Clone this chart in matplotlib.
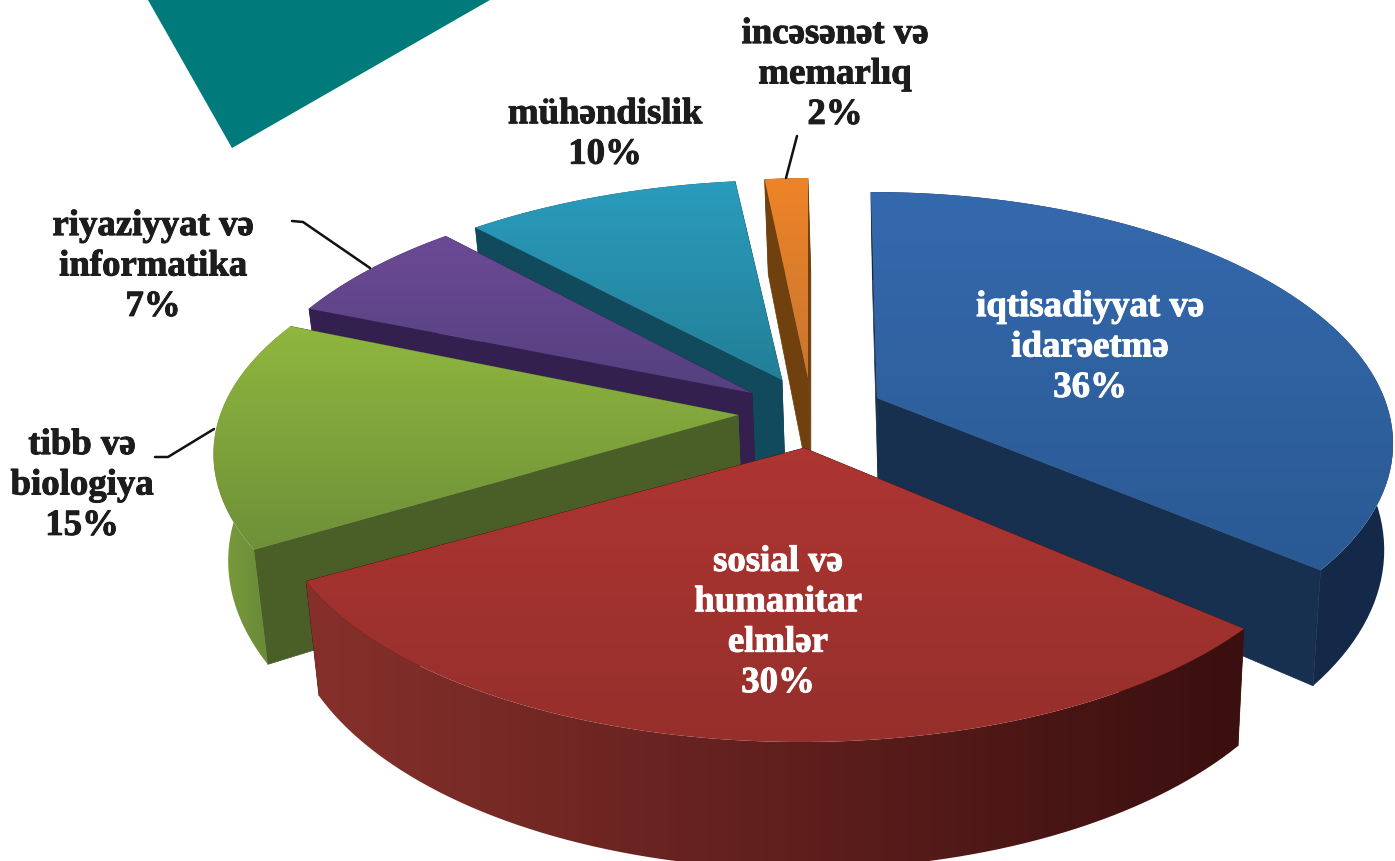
import numpy as np
import matplotlib
matplotlib.use("Agg")
import matplotlib.pyplot as plt
import matplotlib.patheffects as pe
from matplotlib.patches import Polygon
from matplotlib.colors import LinearSegmentedColormap

# ---- data ----
categories = ["iqtisadiyyat və\nidarəetmə", "sosial və\nhumanitar\nelmlər", "tibb və\nbiologiya",
              "riyaziyyat və\ninformatika", "mühəndislik", "incəsənət və\nmemarlıq"]
values = [36, 30, 15, 7, 10, 2]

# ---- styles / layout (pixel space) ----
apex = [(877, 398), (804, 448), (738, 415), (752, 393), (782, 380), (808, 378)]
scale_x = [0.985, 1.005, 1.0, 0.99, 1.01, 0.8]
shear_x = [0.03, -0.08, 0.0, 0.0, -0.04, 0.0]
shear_y = [0.0, 0.018, 0.015, 0.0, 0.0, 0.0]
persp = [0.17, 0.19, 0.19, 0.19, 0.19, 0.19]
Ry = [241, 238, 238, 245, 238, 238]
depth = [103, 103, 103, 103, 103, 113]
top_cols = [("#3569ad", "#2a5a94"), ("#ad3532", "#962f2b"), ("#8fb63f", "#6f9038"),
            ("#6b4a95", "#54407f"), ("#2a9cbd", "#237f97"), ("#ee8428", "#c9762f")]
radial_cols = ["#17304f", "#4a1010", "#4a5f28", "#33204f", "#114a5c", "#70400f"]
strip_cols = [("#14253e", "#14294a"), ("#86302b", "#3a0f0f"), ("#7c9f3d", "#5d7c33"),
              ("#33204f", "#33204f"), ("#114a5c", "#114a5c"), ("#70400f", "#70400f")]
label_pos = [(1090, 347), (778, 622), (82, 485), (153, 266), (605, 134), (835, 74)]
label_cols = ["white", "white", "#1c1c1c", "#1c1c1c", "#1c1c1c", "#1c1c1c"]
draw_order = [5, 4, 3, 2, 0, 1]
Rx, vx, shrink = 515, 950, 0.98

fig = plt.figure(figsize=(13.95, 8.61), dpi=100, facecolor="white")
ax = fig.add_axes([0, 0, 1, 1])
ax.set_axis_off()
z = [1.0]


def next_z():
    z[0] += 1
    return z[0]


def flat_poly(pts, col):
    ax.add_patch(Polygon(pts, closed=True, fc=col, ec=col, lw=0.5, zorder=next_z()))


def grad_poly(pts, c0, c1, vertical=True):
    pts = np.asarray(pts)
    x0, y0 = pts.min(0)
    x1, y1 = pts.max(0)
    g = np.linspace(0, 1, 128)
    arr = g[:, None] if vertical else g[None, :]
    cm = LinearSegmentedColormap.from_list("g", [c0, c1])
    im = ax.imshow(arr, cmap=cm, vmin=0, vmax=1, origin="upper", aspect="auto",
                   extent=(x0, x1 + 1e-3, y1 + 1e-3, y0), interpolation="bilinear",
                   zorder=next_z())
    patch = Polygon(pts, closed=True, transform=ax.transData, fc="none", ec="none")
    ax.add_patch(patch)
    im.set_clip_path(patch)


def top_pt(a, i, theta):
    X, Y = np.sin(theta), np.cos(theta)
    k = 1 / (1 + persp[i] * Y)
    dx = Rx * scale_x[i] * X * k
    dy = -Ry[i] * Y * k
    return a[0] + dx + shear_x[i] * dy, a[1] + dy + shear_y[i] * dx, k


def bottom(x, y, k, i):
    return vx + (x - vx) * shrink, y + depth[i] * k


edges = np.radians(np.concatenate([[0], np.cumsum(values)]) * 3.6)

# teal decoration top-left
ax.add_patch(Polygon([(148, 0), (490, 0), (232, 148)], closed=True, fc="#007a7a", ec="none"))

for i in draw_order:
    a = apex[i]
    th = np.linspace(edges[i], edges[i + 1], 80)
    arc = [top_pt(a, i, t) for t in th]
    arc_top = [(p[0], p[1]) for p in arc]
    arc_bot = [bottom(p[0], p[1], p[2], i) for p in arc]
    a_bot = bottom(a[0], a[1], 1.0, i)
    flat_poly([a, arc_top[0], arc_bot[0], a_bot], radial_cols[i])
    flat_poly([a, arc_top[-1], arc_bot[-1], a_bot], radial_cols[i])
    grad_poly(arc_top + arc_bot[::-1], strip_cols[i][0], strip_cols[i][1], vertical=False)
    grad_poly([a] + arc_top, top_cols[i][0], top_cols[i][1])

# leader lines
leaders = [[(292, 221), (303, 222), (370, 268)],
           [(155, 457), (168, 457), (214, 429)],
           [(786, 178), (797, 136)]]
for seg in leaders:
    ax.plot(*zip(*seg), color="#111111", lw=1.8, solid_capstyle="round", zorder=200)

# labels
for i, (name, v) in enumerate(zip(categories, values)):
    ax.text(label_pos[i][0], label_pos[i][1], f"{name}\n{v}%", color=label_cols[i],
            family="Liberation Serif", weight="bold", fontsize=26.5, ha="center", va="center",
            linespacing=1.2, multialignment="center", zorder=300,
            path_effects=[pe.withStroke(linewidth=0.7, foreground=label_cols[i])])

ax.set_xlim(0, 1395)
ax.set_ylim(861, 0)
fig.savefig("out.png", dpi=100, facecolor="white")
